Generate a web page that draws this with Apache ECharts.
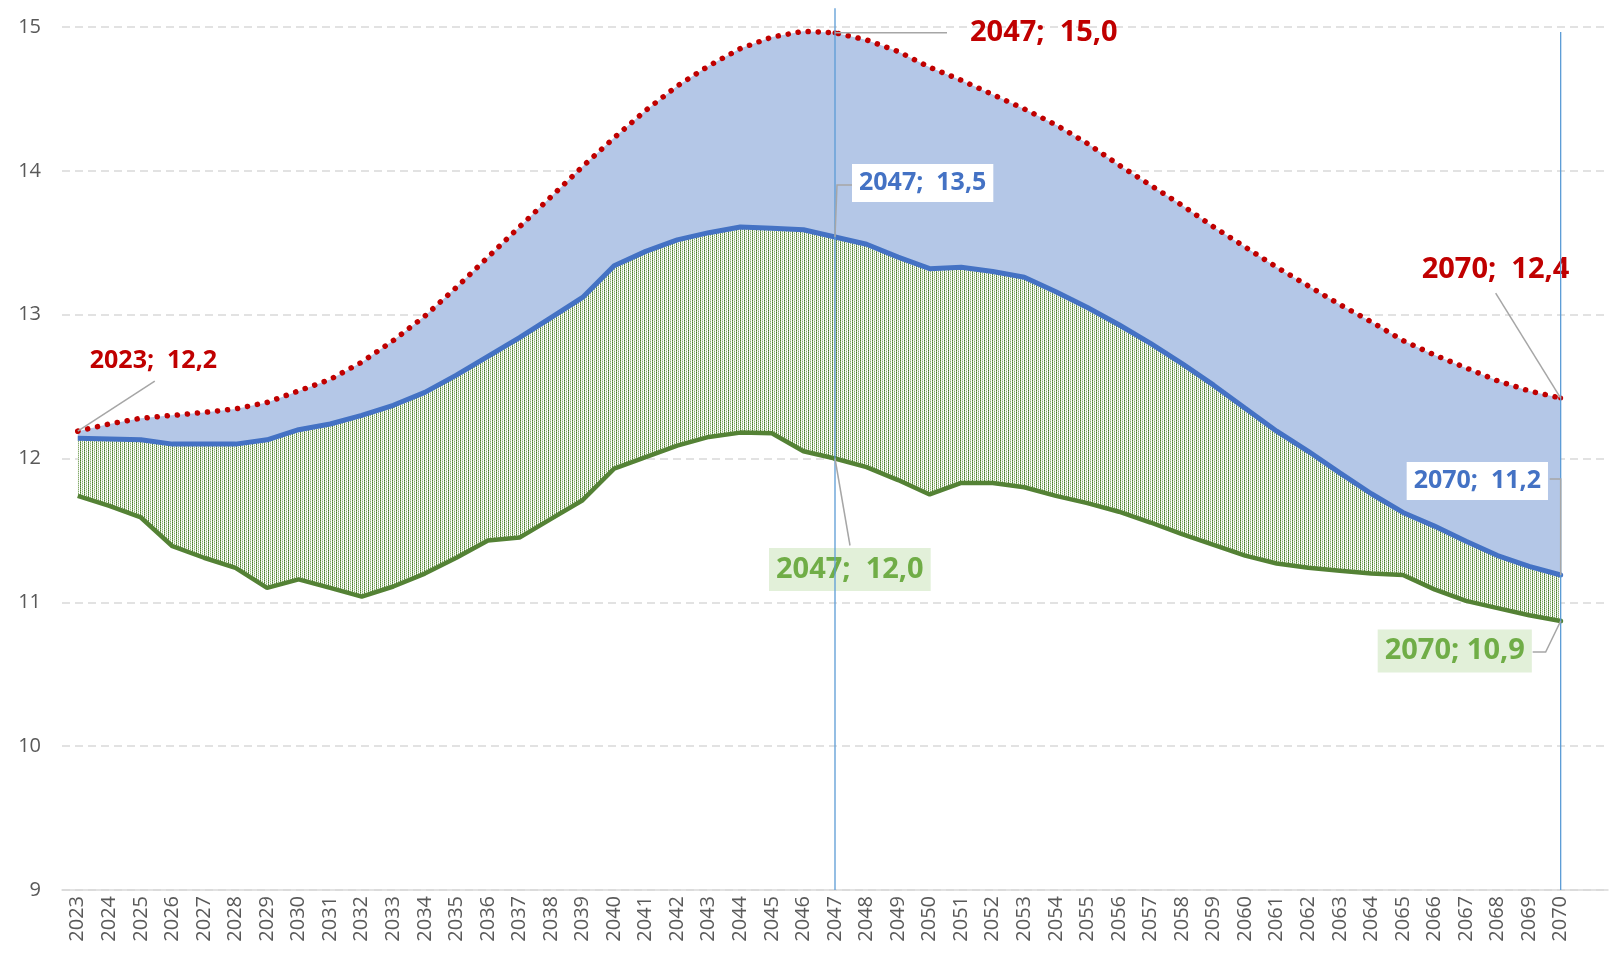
<!DOCTYPE html>
<html>
<head>
<meta charset="utf-8">
<script src="https://cdn.jsdelivr.net/npm/echarts@6/dist/echarts.min.js"></script>
<style>
html, body { margin: 0; padding: 0; background: #fff; }
#main { width: 1614px; height: 966px; }
</style>
</head>
<body>
<div id="main"></div>
<script>
var years = [2023, 2024, 2025, 2026, 2027, 2028, 2029, 2030, 2031, 2032, 2033, 2034, 2035, 2036, 2037, 2038,
  2039, 2040, 2041, 2042, 2043, 2044, 2045, 2046, 2047, 2048, 2049, 2050, 2051, 2052, 2053, 2054,
  2055, 2056, 2057, 2058, 2059, 2060, 2061, 2062, 2063, 2064, 2065, 2066, 2067, 2068, 2069, 2070];

// upper scenario (red dotted)
var high = [12.19, 12.24, 12.28, 12.30, 12.32, 12.345, 12.39, 12.47, 12.55, 12.67, 12.82, 12.99, 13.19, 13.40, 13.61, 13.82,
  14.03, 14.23, 14.42, 14.59, 14.73, 14.85, 14.93, 14.97, 14.96, 14.91, 14.83, 14.72, 14.63, 14.53, 14.43, 14.32,
  14.19, 14.04, 13.90, 13.76, 13.61, 13.47, 13.33, 13.20, 13.07, 12.95, 12.82, 12.72, 12.63, 12.54, 12.47, 12.42];
// central scenario (blue)
var mid = [12.14, 12.135, 12.13, 12.10, 12.10, 12.10, 12.13, 12.20, 12.24, 12.30, 12.37, 12.46, 12.58, 12.71, 12.84, 12.98,
  13.12, 13.34, 13.44, 13.52, 13.57, 13.61, 13.60, 13.59, 13.54, 13.49, 13.40, 13.32, 13.33, 13.30, 13.26, 13.16,
  13.05, 12.93, 12.80, 12.66, 12.51, 12.35, 12.19, 12.05, 11.90, 11.755, 11.625, 11.53, 11.425, 11.325, 11.25, 11.19];
// lower scenario (green)
var low = [11.74, 11.67, 11.59, 11.39, 11.31, 11.24, 11.10, 11.16, 11.10, 11.04, 11.11, 11.20, 11.31, 11.43, 11.45, 11.58,
  11.71, 11.93, 12.01, 12.09, 12.15, 12.18, 12.175, 12.05, 12.00, 11.94, 11.85, 11.75, 11.83, 11.83, 11.80, 11.74,
  11.69, 11.63, 11.555, 11.475, 11.40, 11.325, 11.27, 11.24, 11.22, 11.20, 11.19, 11.09, 11.01, 10.96, 10.91, 10.87];

// vertical reference lines: year and the value where each line stops at the top
var markedYears = [2047, 2070];
var markTops = [15.13, 14.965];

// category axis has one empty slot after 2070, like the original
var categories = years.map(String).concat(['']);

// where each data label sits, relative to its point (pixels), and its leader line shape
var labelSpots = {
  high: {
    2023: { sep: ';  ', size: 25, dx: 12, dy: -70, line: [[0, 0], [77, -50]] },
    2047: { sep: ';  ', size: 29, dx: 135, dy: 0, line: [[0, 0], [112, 0]] },
    2070: { sep: ';  ', size: 29, dx: -139, dy: -128, line: [[0, 0], [-65, -105]] }
  },
  mid: {
    2047: { sep: ';  ', size: 25, dx: 17, dy: -54, line: [[0, 0], [2, -52], [17, -52]] },
    2070: { sep: ';  ', size: 25, dx: -154, dy: -94, line: [[0, 0], [0, -96], [-11, -96]] }
  },
  low: {
    2047: { sep: ';  ', size: 29, dx: -66, dy: 111, line: [[0, 0], [15, 87]] },
    2070: { sep: '; ', size: 29, dx: -183, dy: 30, line: [[0, 0], [-15, 31], [-28, 31]] }
  }
};
var seriesValues = { high: high, mid: mid, low: low };

var FONT = '"Open Sans", "Noto Sans", sans-serif';

function greenPattern() {
  var c = document.createElement('canvas');
  c.width = 4; c.height = 4;
  var g = c.getContext('2d');
  g.fillStyle = '#ffffff';
  g.fillRect(0, 0, 4, 4);
  var dark = '#4a7a2c', mid2 = '#86ab6e', pale = '#c9dbbc', faint = '#eef4e9';
  var cells = [[0, 0, dark], [0, 1, mid2], [0, 2, dark], [0, 3, mid2],
               [1, 0, faint], [1, 2, faint],
               [2, 0, pale], [2, 1, mid2], [2, 2, pale], [2, 3, mid2]];
  cells.forEach(function (p) { g.fillStyle = p[2]; g.fillRect(p[0], p[1], 1, 1); });
  return c;
}

function fmt(v) { return v.toFixed(1).replace('.', ','); }

function lineData(values, key, color) {
  return values.map(function (v, i) {
    var spot = labelSpots[key][years[i]];
    if (!spot) return v;
    return {
      value: v,
      symbol: 'circle',
      symbolSize: 5,
      itemStyle: { color: color },
      label: {
        show: true,
        fontSize: spot.size,
        lineHeight: Math.round(spot.size * 1.2),
        formatter: function (p) { return years[p.dataIndex] + spot.sep + fmt(p.value); }
      }
    };
  });
}

function layoutFor(key) {
  return function (p) {
    var spot = labelSpots[key][years[p.dataIndex]];
    if (!spot) return {};
    var ax = p.rect.x + p.rect.width / 2;
    var ay = p.rect.y + p.rect.height / 2;
    return { x: ax + spot.dx, y: ay + spot.dy, align: 'left', verticalAlign: 'middle' };
  };
}

var myChart = echarts.init(document.getElementById('main'));

var option = {
  animation: false,
  backgroundColor: '#ffffff',
  grid: { left: 62, right: 6, top: 27, bottom: 76, containLabel: false, outerBoundsMode: 'none' },
  xAxis: {
    type: 'category',
    data: categories,
    boundaryGap: true,
    axisLine: { show: true, lineStyle: { color: '#D9D9D9', width: 1.5 } },
    axisTick: { show: false },
    axisLabel: { interval: 0, rotate: 90, fontSize: 20, color: '#595959', fontFamily: FONT, margin: 6 },
    splitLine: { show: false }
  },
  yAxis: {
    type: 'value',
    min: 9,
    max: 15,
    interval: 1,
    axisLine: { show: false },
    axisTick: { show: false },
    axisLabel: { fontSize: 20, color: '#595959', fontFamily: FONT, margin: 21 },
    splitLine: { lineStyle: { color: '#D9D9D9', width: 1.5, type: [8, 5] } }
  },
  series: [
    {
      name: 'base', type: 'line', stack: 'band', symbol: 'none', silent: true,
      data: low, lineStyle: { width: 0, opacity: 0 }, z: 1
    },
    {
      name: 'lowBand', type: 'line', stack: 'band', symbol: 'none', silent: true,
      data: mid.map(function (v, i) { return +(v - low[i]).toFixed(4); }),
      lineStyle: { width: 0, opacity: 0 },
      areaStyle: { color: { image: greenPattern(), repeat: 'repeat' }, opacity: 1 }, z: 1
    },
    {
      name: 'highBand', type: 'line', stack: 'band', symbol: 'none', silent: true,
      data: high.map(function (v, i) { return +(v - mid[i]).toFixed(4); }),
      lineStyle: { width: 0, opacity: 0 },
      areaStyle: { color: '#B4C7E7', opacity: 1 }, z: 1
    },
    {
      name: 'low', type: 'line', symbol: 'none', showSymbol: true, showAllSymbol: true,
      data: lineData(low, 'low', '#548235'),
      lineStyle: { color: '#548235', width: 4.5 },
      itemStyle: { color: '#548235' },
      label: {
        color: '#70AD47', fontWeight: 'bold', fontFamily: FONT,
        backgroundColor: '#E2F0D9', padding: [4, 7]
      },
      labelLayout: layoutFor('low'),
      z: 3
    },
    {
      name: 'mid', type: 'line', symbol: 'none', showSymbol: true, showAllSymbol: true,
      data: lineData(mid, 'mid', '#4472C4'),
      lineStyle: { color: '#4472C4', width: 5 },
      itemStyle: { color: '#4472C4' },
      label: {
        color: '#4472C4', fontWeight: 'bold', fontFamily: FONT,
        backgroundColor: '#FFFFFF', padding: [4, 7]
      },
      labelLayout: layoutFor('mid'),
      z: 3
    },
    {
      name: 'high', type: 'line', symbol: 'none', showSymbol: true, showAllSymbol: true,
      data: lineData(high, 'high', '#C00000'),
      lineStyle: { color: '#C00000', width: 5.5, type: [0.1, 10], cap: 'round' },
      itemStyle: { color: '#C00000' },
      label: { color: '#C00000', fontWeight: 'bold', fontFamily: FONT },
      labelLayout: layoutFor('high'),
      z: 3
    }
  ]
};

myChart.setOption(option);

// vertical lines and leader lines, placed through the chart's own scales
var extras = [];
markedYears.forEach(function (y, k) {
  var i = categories.indexOf(String(y));
  var p0 = myChart.convertToPixel({ gridIndex: 0 }, [i, 9]);
  var p1 = myChart.convertToPixel({ gridIndex: 0 }, [i, markTops[k]]);
  extras.push({
    type: 'line', silent: true, z: 4,
    shape: { x1: p0[0], y1: p0[1], x2: p1[0], y2: p1[1] },
    style: { stroke: '#5B9BD5', lineWidth: 1.3 }
  });
});
Object.keys(labelSpots).forEach(function (key) {
  Object.keys(labelSpots[key]).forEach(function (yr) {
    var i = years.indexOf(+yr);
    var a = myChart.convertToPixel({ gridIndex: 0 }, [i, seriesValues[key][i]]);
    extras.push({
      type: 'polyline',
      silent: true,
      z: 4,
      shape: { points: labelSpots[key][yr].line.map(function (pt) { return [a[0] + pt[0], a[1] + pt[1]]; }) },
      style: { stroke: '#A6A6A6', lineWidth: 1.5, fill: null }
    });
  });
});
myChart.setOption({ graphic: extras });
</script>
</body>
</html>
